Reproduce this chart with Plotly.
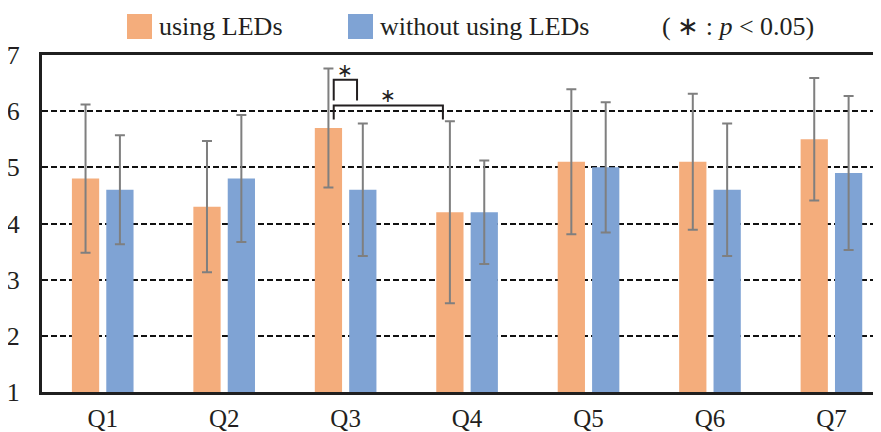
import plotly.graph_objects as go

categories = ["Q1", "Q2", "Q3", "Q4", "Q5", "Q6", "Q7"]
using_leds = [4.8, 4.3, 5.7, 4.2, 5.1, 5.1, 5.5]
using_leds_sd = [1.32, 1.17, 1.06, 1.62, 1.29, 1.21, 1.09]
without_leds = [4.6, 4.8, 4.6, 4.2, 5.0, 4.6, 4.9]
without_leds_sd = [0.97, 1.13, 1.18, 0.92, 1.16, 1.18, 1.37]
y_ticks = [1, 2, 3, 4, 5, 6, 7]
series_names = ["using LEDs", "without using LEDs"]
significance_note = "( ∗ : <i>p</i> &lt; 0.05)"

ORANGE = "#F4AD7C"
BLUE = "#7FA3D4"
ERR = "#7F7F7F"
FONT = "Times New Roman, Liberation Serif, serif"
TXT = "#231F20"

fig = go.Figure()
for name, vals, sd, col in [
    (series_names[0], using_leds, using_leds_sd, ORANGE),
    (series_names[1], without_leds, without_leds_sd, BLUE),
]:
    fig.add_trace(go.Bar(
        x=categories, y=vals, name=name, marker_color=col,
        marker_line_width=0, showlegend=False,
        error_y=dict(type="data", array=sd, visible=True, color=ERR,
                     thickness=2, width=5),
    ))

# significance brackets (category coordinates around Q3/Q4)
def bracket(x0, x1, ytop, yleft, yright, ystar):
    fig.add_shape(type="path", xref="x", yref="y",
                  path=f"M {x0},{yleft} L {x0},{ytop} L {x1},{ytop} L {x1},{yright}",
                  line=dict(color="#231F20", width=2))
    fig.add_annotation(x=(x0 + x1) / 2, y=ystar, xref="x", yref="y",
                       text="∗", showarrow=False,
                       font=dict(family="DejaVu Sans", size=19, color=TXT))

bracket(1.902, 2.094, 6.56, 6.19, 6.19, 6.73)
bracket(1.902, 2.801, 6.10, 5.85, 5.85, 6.28)

# page body has an 8px margin; figure positioned at (8, 8)
OFF = 8
ML, MT, MB = 42 - OFF, 55 - OFF, 48
plot_w = 889.0 - 42
plot_h = 337.0
def px(x):
    return (x - 42) / plot_w
def py(y):
    return 1 + (55 - y) / plot_h

for x0, col in [(127, ORANGE), (348, BLUE)]:
    fig.add_shape(type="rect", xref="paper", yref="paper",
                  x0=px(x0), x1=px(x0 + 25), y0=py(39), y1=py(14),
                  fillcolor=col, line_width=0)
for x0, txt in [(157, series_names[0]), (378, series_names[1]), (660, significance_note)]:
    fig.add_annotation(x=px(x0), y=py(26), xref="paper", yref="paper",
                       xanchor="left", yanchor="middle", text=txt,
                       showarrow=False, font=dict(family=FONT, size=26, color=TXT))

fig.update_layout(
    width=881, height=432,
    margin=dict(l=ML, r=0, t=MT, b=MB, autoexpand=False),
    paper_bgcolor="white", plot_bgcolor="white",
    barmode="group", bargap=0.434, bargroupgap=0.207,
    font=dict(family=FONT, color=TXT),
)
fig.update_xaxes(
    range=[-0.5, -0.5 + plot_w / 121.45], showline=True, mirror=True,
    linecolor="#1f1f1f", linewidth=3, showgrid=False, ticks="",
    ticklabelstandoff=2, automargin=False,
    tickfont=dict(family=FONT, size=25, color=TXT),
)
fig.update_yaxes(
    range=[1, 7], tickvals=y_ticks, showline=True, linecolor="#1f1f1f",
    linewidth=3, showgrid=True, gridcolor="#111111", gridwidth=2,
    griddash="6px,3px", zeroline=False, ticks="", ticklabelstandoff=14,
    automargin=False,
    tickfont=dict(family=FONT, size=26, color=TXT),
)

fig.write_html("out.html")
